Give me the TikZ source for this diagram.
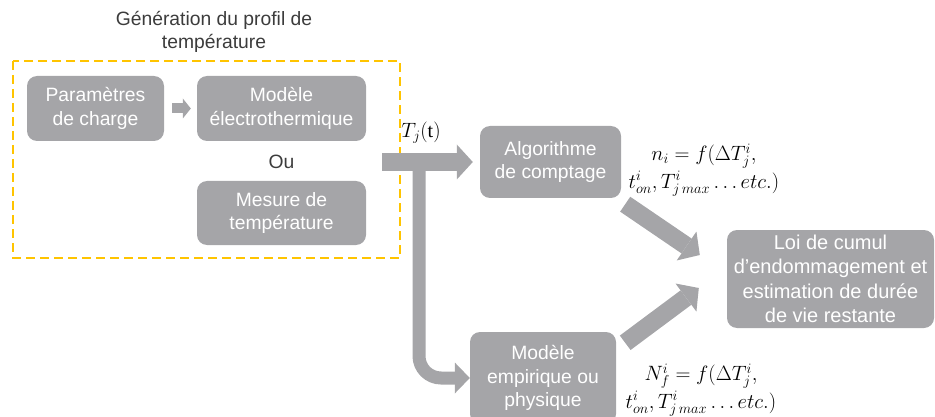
\documentclass[tikz,border=0pt]{standalone}
\usepackage{fontspec}
\setmainfont{Liberation Sans}
\newfontfamily\serifupright{Liberation Serif}
\usetikzlibrary{arrows.meta,calc}
\DeclareMathSizes{20}{20}{15}{11}
\DeclareMathSizes{19}{19}{14}{10}
\definecolor{boxgray}{RGB}{165,165,168}
\definecolor{dashyellow}{RGB}{255,196,0}
\definecolor{titlegray}{RGB}{60,60,60}
\begin{document}
\begin{tikzpicture}[x=1pt,y=-1pt,
  box/.style={rectangle, rounded corners=10pt, fill=boxgray, text=white, align=center,
    font=\fontsize{19.3}{23.5}\selectfont, inner sep=0pt},
  lbl/.style={align=center, font=\fontsize{19.3}{23.5}\selectfont, inner sep=0pt},
  formula/.style={align=center, font=\fontsize{20}{24}\selectfont, inner sep=0pt},
  fatarrow/.style={draw=boxgray, line width=18pt,
    -{Triangle[width=35pt,length=16pt,line width=0pt]}},
  midarrow/.style={draw=boxgray, line width=13pt,
    -{Triangle[width=31pt,length=15pt,line width=0pt]}},
  smallarrow/.style={draw=boxgray, line width=10pt,
    -{Triangle[width=20pt,length=8pt,line width=0pt]}},
  groupbox/.style={draw=dashyellow, line width=2pt, dash pattern=on 9pt off 5pt}
]
\clip (0,0) rectangle (935,417);

% group
\draw[groupbox] (13,61) rectangle (400,258);
\node[lbl, text=titlegray] (title) at (214,32) {Génération du profil de\\température};

% boxes
\node[box, minimum width=137pt, minimum height=65pt] (param) at (95.5,108.5) {Paramètres\\de charge};
\node[box, minimum width=169pt, minimum height=65pt] (elec) at (281.5,108.5) {Modèle\\électrothermique};
\node[lbl, text=titlegray] (ou) at (281.5,162) {Ou};
\node[box, minimum width=169pt, minimum height=64pt] (mesure) at (281.5,213) {Mesure de\\température};
\node[box, minimum width=141pt, minimum height=72pt] (algo) at (550.5,162) {Algorithme\\de comptage};
\node[box, minimum width=146pt, minimum height=92pt] (empir) at (543,378) {Modèle\\empirique ou\\physique};
\node[box, minimum width=207pt, minimum height=98pt, font=\fontsize{20}{24.5}\selectfont] (loi) at (830.5,279)
  {Loi de cumul\\d’endommagement et\\estimation de durée\\de vie restante};

% labels
\node[formula] (tj) at (421,133) {$T_j(\hbox{\serifupright t})$};
\node[formula] (ni) at (704,170) {$n_i = f(\Delta T_j^i,$\\[2pt] $t_{on}^i, T_{j\,max}^i \mathinner{\ldotp\ldotp\ldotp} etc.)$};
\node[formula] (nf) at (701,390) {$N_f^i = f(\Delta T_j^i,$\\[2pt] $t_{on}^i, T_{j\,max}^i \mathinner{\ldotp\ldotp\ldotp} etc.)$};

% connectors
\coordinate (src) at (382,162);
\coordinate (split) at (419,162);
\draw[smallarrow, shorten <=8pt, shorten >=6pt] (param.east) -- (elec.west);
\draw[midarrow, rounded corners=22pt] (split) |- (empir.west);
\draw[fatarrow, shorten >=7pt] (src) -- (algo.west);
\draw[fatarrow] ($(algo.south east)+(4,6)$) -- ($(loi.west)+(-27,-24)$);
\draw[fatarrow] ($(empir.north east)+(9,11)$) -- ($(loi.west)+(-28,9)$);
\end{tikzpicture}
\end{document}
